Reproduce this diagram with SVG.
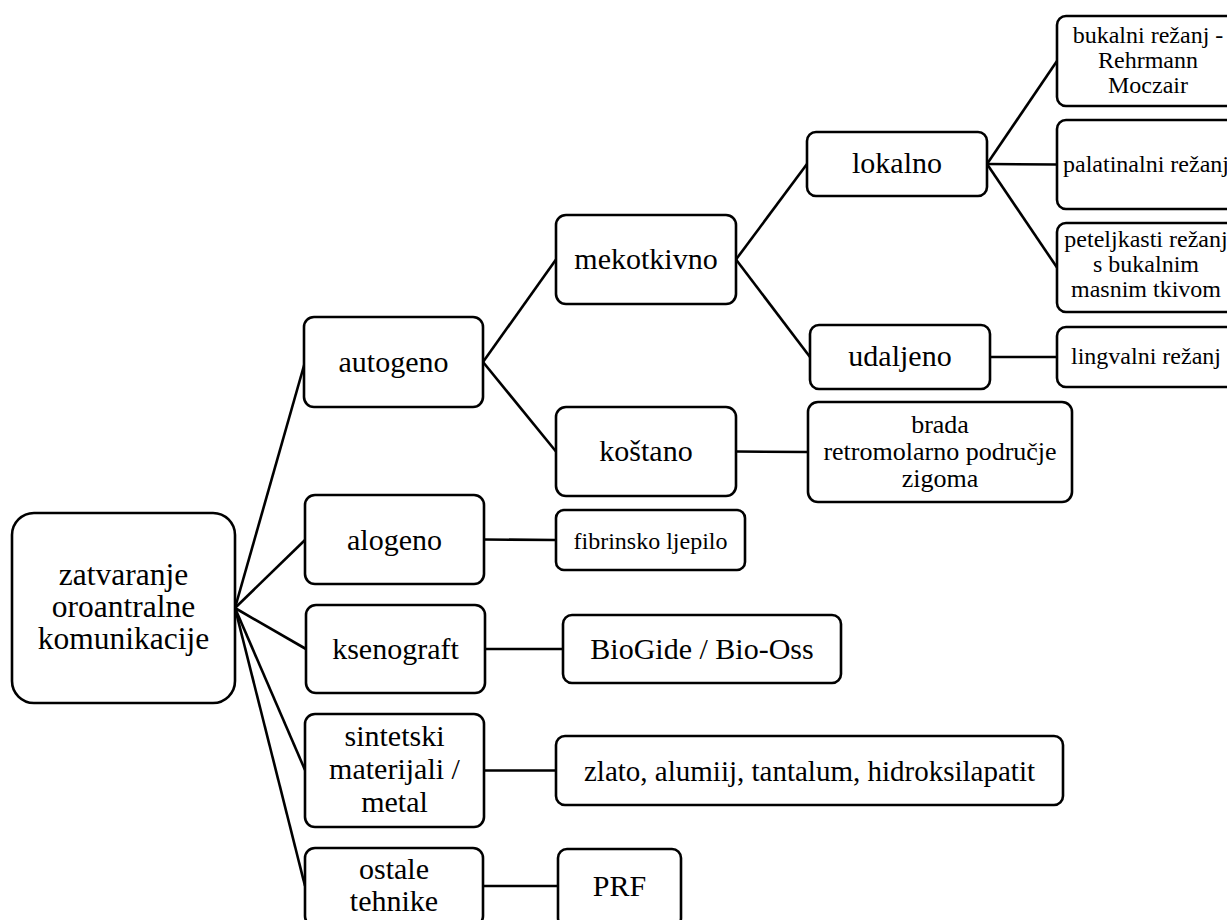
<svg xmlns="http://www.w3.org/2000/svg" width="1227" height="920" viewBox="0 0 1227 920">
<style>
.box{fill:#fff;stroke:#000;stroke-width:2.6}
.c line{stroke:#000;stroke-width:2.6}
</style>
<rect width="1227" height="920" fill="#fff"/>
<g class="c" id="edges">
<line x1="235" y1="608" x2="305" y2="362"/>
<line x1="235" y1="608" x2="305" y2="540"/>
<line x1="235" y1="608" x2="306" y2="649"/>
<line x1="235" y1="608" x2="305" y2="770"/>
<line x1="235" y1="608" x2="305" y2="886"/>
<line x1="483" y1="362" x2="556" y2="259.5"/>
<line x1="483" y1="362" x2="556" y2="451.5"/>
<line x1="736" y1="259.5" x2="807" y2="164"/>
<line x1="736" y1="259.5" x2="810" y2="357"/>
<line x1="987" y1="164" x2="1057" y2="61"/>
<line x1="987" y1="164" x2="1057" y2="164.5"/>
<line x1="987" y1="164" x2="1057" y2="267.5"/>
<line x1="990" y1="357" x2="1057" y2="357"/>
<line x1="736" y1="451.5" x2="808" y2="452"/>
<line x1="484" y1="539.5" x2="556" y2="540"/>
<line x1="485" y1="649" x2="563" y2="649"/>
<line x1="484" y1="770.5" x2="556" y2="770.5"/>
<line x1="483" y1="886" x2="558" y2="886"/>
</g>
<g id="n-zatvaranje">
<rect class="box" x="12" y="513" width="223" height="190" rx="22"/>
<text font-family="Liberation Serif" font-size="31.5" text-anchor="middle" x="123.5" y="585">zatvaranje</text>
<text font-family="Liberation Serif" font-size="31.5" text-anchor="middle" x="123.5" y="617">oroantralne</text>
<text font-family="Liberation Serif" font-size="31.5" text-anchor="middle" x="123.5" y="649">komunikacije</text>
</g>
<g id="n-autogeno">
<rect class="box" x="304" y="317" width="179" height="90" rx="10"/>
<text font-family="Liberation Serif" font-size="30" text-anchor="middle" x="393.5" y="372">autogeno</text>
</g>
<g id="n-mekotkivno">
<rect class="box" x="556" y="215" width="180" height="89" rx="10"/>
<text font-family="Liberation Serif" font-size="30" text-anchor="middle" x="646" y="268.5">mekotkivno</text>
</g>
<g id="n-kostano">
<rect class="box" x="556" y="407" width="180" height="89" rx="10"/>
<text font-family="Liberation Serif" font-size="30" text-anchor="middle" x="646" y="460.5">koštano</text>
</g>
<g id="n-lokalno">
<rect class="box" x="807" y="132" width="180" height="64" rx="9"/>
<text font-family="Liberation Serif" font-size="30" text-anchor="middle" x="897" y="173">lokalno</text>
</g>
<g id="n-udaljeno">
<rect class="box" x="810" y="325" width="180" height="64" rx="9"/>
<text font-family="Liberation Serif" font-size="30" text-anchor="middle" x="900" y="366">udaljeno</text>
</g>
<g id="n-bukalni">
<rect class="box" x="1057" y="16" width="182" height="90" rx="9"/>
<text font-family="Liberation Serif" font-size="24" text-anchor="middle" x="1148" y="43">bukalni režanj -</text>
<text font-family="Liberation Serif" font-size="24" text-anchor="middle" x="1148" y="68">Rehrmann</text>
<text font-family="Liberation Serif" font-size="24" text-anchor="middle" x="1148" y="93">Moczair</text>
</g>
<g id="n-palatinalni">
<rect class="box" x="1057" y="120" width="182" height="89" rx="9"/>
<text font-family="Liberation Serif" font-size="24" text-anchor="middle" x="1146" y="172">palatinalni režanj</text>
</g>
<g id="n-peteljkasti">
<rect class="box" x="1057" y="223" width="182" height="89" rx="9"/>
<text font-family="Liberation Serif" font-size="24" text-anchor="middle" x="1146" y="247">peteljkasti režanj</text>
<text font-family="Liberation Serif" font-size="24" text-anchor="middle" x="1146" y="272">s bukalnim</text>
<text font-family="Liberation Serif" font-size="24" text-anchor="middle" x="1146" y="297">masnim tkivom</text>
</g>
<g id="n-lingvalni">
<rect class="box" x="1057" y="327" width="182" height="60" rx="9"/>
<text font-family="Liberation Serif" font-size="24" text-anchor="middle" x="1146" y="364">lingvalni režanj</text>
</g>
<g id="n-brada">
<rect class="box" x="808" y="402" width="264" height="100" rx="10"/>
<text font-family="Liberation Serif" font-size="26" text-anchor="middle" x="940" y="433">brada</text>
<text font-family="Liberation Serif" font-size="26" text-anchor="middle" x="940" y="460">retromolarno područje</text>
<text font-family="Liberation Serif" font-size="26" text-anchor="middle" x="940" y="487">zigoma</text>
</g>
<g id="n-alogeno">
<rect class="box" x="305" y="495" width="179" height="89" rx="10"/>
<text font-family="Liberation Serif" font-size="30" text-anchor="middle" x="394.5" y="550">alogeno</text>
</g>
<g id="n-fibrinsko">
<rect class="box" x="556" y="510" width="189" height="60" rx="8"/>
<text font-family="Liberation Serif" font-size="24" text-anchor="middle" x="650.5" y="549">fibrinsko ljepilo</text>
</g>
<g id="n-ksenograft">
<rect class="box" x="306" y="605" width="179" height="88" rx="10"/>
<text font-family="Liberation Serif" font-size="30" text-anchor="middle" x="395.5" y="659">ksenograft</text>
</g>
<g id="n-biogide">
<rect class="box" x="563" y="615" width="278" height="68" rx="9"/>
<text font-family="Liberation Serif" font-size="30" text-anchor="middle" x="702" y="659">BioGide / Bio-Oss</text>
</g>
<g id="n-sintetski">
<rect class="box" x="305" y="714" width="179" height="113" rx="10"/>
<text font-family="Liberation Serif" font-size="30" text-anchor="middle" x="394.5" y="746">sintetski</text>
<text font-family="Liberation Serif" font-size="30" text-anchor="middle" x="394.5" y="779">materijali /</text>
<text font-family="Liberation Serif" font-size="30" text-anchor="middle" x="394.5" y="812">metal</text>
</g>
<g id="n-zlato">
<rect class="box" x="556" y="736" width="507" height="69" rx="9"/>
<text font-family="Liberation Serif" font-size="29" text-anchor="middle" x="809.5" y="781">zlato, alumiij, tantalum, hidroksilapatit</text>
</g>
<g id="n-ostale">
<rect class="box" x="305" y="848" width="178" height="78" rx="10"/>
<text font-family="Liberation Serif" font-size="30" text-anchor="middle" x="394" y="879">ostale</text>
<text font-family="Liberation Serif" font-size="30" text-anchor="middle" x="394" y="911">tehnike</text>
</g>
<g id="n-prf">
<rect class="box" x="558" y="849" width="123" height="78" rx="9"/>
<text font-family="Liberation Serif" font-size="30" text-anchor="middle" x="619.5" y="896">PRF</text>
</g>
</svg>
